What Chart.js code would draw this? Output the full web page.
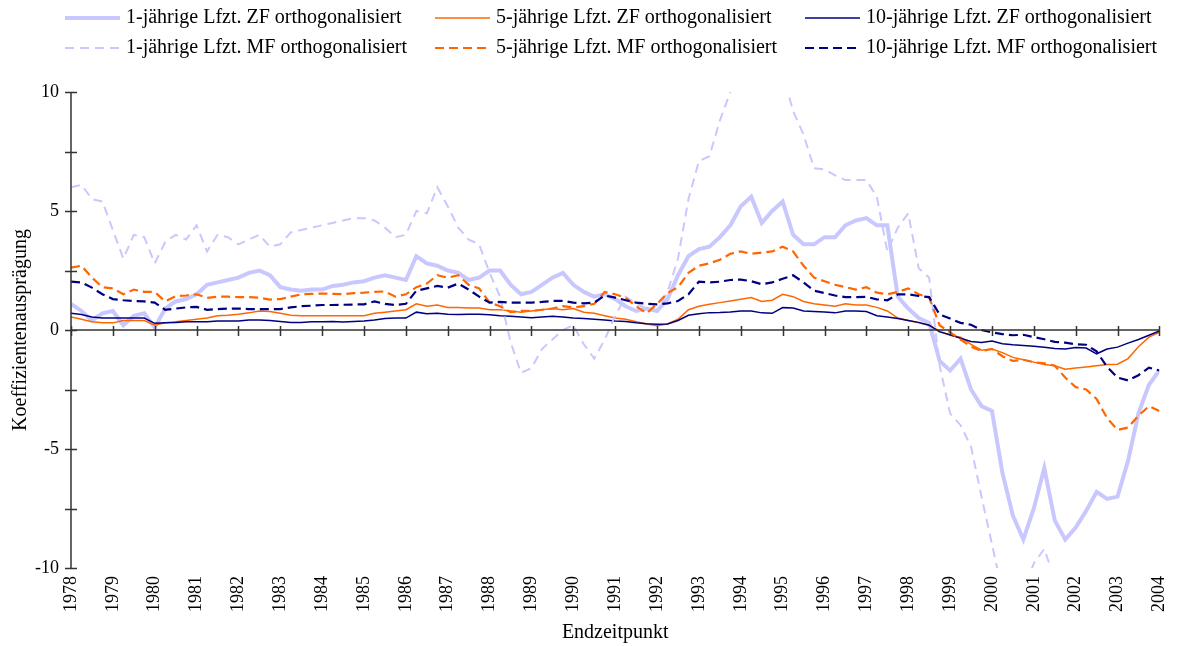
<!DOCTYPE html>
<html lang="de">
<head>
<meta charset="utf-8">
<title>Koeffizientenausprägung</title>
<script src="https://cdn.jsdelivr.net/npm/chart.js@4/dist/chart.umd.min.js"></script>
<style>
  html, body { margin: 0; padding: 0; background: #fff; }
  #rahmen { width: 1189px; height: 646px; position: relative; }
</style>
</head>
<body>
<div id="rahmen"><canvas id="graphique"></canvas></div>
<script>
// Endzeitpunkte (Quartale)
const quartale = [
  1978.00, 1978.25, 1978.50, 1978.75, 1979.00, 1979.25, 1979.50, 1979.75,
  1980.00, 1980.25, 1980.50, 1980.75, 1981.00, 1981.25, 1981.50, 1981.75,
  1982.00, 1982.25, 1982.50, 1982.75, 1983.00, 1983.25, 1983.50, 1983.75,
  1984.00, 1984.25, 1984.50, 1984.75, 1985.00, 1985.25, 1985.50, 1985.75,
  1986.00, 1986.25, 1986.50, 1986.75, 1987.00, 1987.25, 1987.50, 1987.75,
  1988.00, 1988.25, 1988.50, 1988.75, 1989.00, 1989.25, 1989.50, 1989.75,
  1990.00, 1990.25, 1990.50, 1990.75, 1991.00, 1991.25, 1991.50, 1991.75,
  1992.00, 1992.25, 1992.50, 1992.75, 1993.00, 1993.25, 1993.50, 1993.75,
  1994.00, 1994.25, 1994.50, 1994.75, 1995.00, 1995.25, 1995.50, 1995.75,
  1996.00, 1996.25, 1996.50, 1996.75, 1997.00, 1997.25, 1997.50, 1997.75,
  1998.00, 1998.25, 1998.50, 1998.75, 1999.00, 1999.25, 1999.50, 1999.75,
  2000.00, 2000.25, 2000.50, 2000.75, 2001.00, 2001.25, 2001.50, 2001.75,
  2002.00, 2002.25, 2002.50, 2002.75, 2003.00, 2003.25, 2003.50, 2003.75,
  2004.00
];

const jahre = [1978, 1979, 1980, 1981, 1982, 1983, 1984, 1985, 1986, 1987, 1988, 1989, 1990,
  1991, 1992, 1993, 1994, 1995, 1996, 1997, 1998, 1999, 2000, 2001, 2002, 2003, 2004];
const yTicks = [10, 5, 0, -5, -10];

// 1-jährige Lfzt. ZF orthogonalisiert
const zf1 = [
  1.1, 0.8, 0.4, 0.7,   0.8, 0.2, 0.6, 0.7,   0.1, 0.9, 1.2, 1.3,   1.5, 1.9, 2.0, 2.1,
  2.2, 2.4, 2.5, 2.3,   1.8, 1.7, 1.65, 1.7,  1.7, 1.85, 1.9, 2.0,  2.05, 2.2, 2.3, 2.2,
  2.1, 3.1, 2.8, 2.7,   2.5, 2.4, 2.1, 2.2,   2.5, 2.5, 1.9, 1.5,   1.6, 1.9, 2.2, 2.4,
  1.9, 1.6, 1.4, 1.5,   1.3, 1.0, 0.8, 0.9,   0.8, 1.3, 2.3, 3.1,   3.4, 3.5, 3.9, 4.4,
  5.2, 5.6, 4.5, 5.0,   5.4, 4.0, 3.6, 3.6,   3.9, 3.9, 4.4, 4.6,   4.7, 4.4, 4.4, 1.4,
  0.9, 0.5, 0.3, -1.3,  -1.7, -1.2, -2.5, -3.2,  -3.4, -6.0, -7.8, -8.8,  -7.5, -5.8, -8.0, -8.8,
  -8.3, -7.6, -6.8, -7.1,  -7.0, -5.5, -3.5, -2.3,
  -1.7
];

// 5-jährige Lfzt. ZF orthogonalisiert
const zf5 = [
  0.55, 0.45, 0.35, 0.3,  0.3, 0.4, 0.4, 0.4,   0.2, 0.3, 0.35, 0.4,  0.45, 0.5, 0.6, 0.62,
  0.66, 0.72, 0.8, 0.78,  0.7, 0.62, 0.6, 0.6,  0.6, 0.6, 0.6, 0.6,   0.6, 0.7, 0.75, 0.8,
  0.85, 1.1, 1.0, 1.05,   0.95, 0.95, 0.92, 0.92,  0.85, 0.85, 0.8, 0.75,  0.8, 0.85, 0.9, 0.85,
  0.9, 0.75, 0.7, 0.6,    0.5, 0.45, 0.35, 0.25,  0.18, 0.25, 0.45, 0.85,  1.0, 1.08, 1.15, 1.22,
  1.29, 1.36, 1.2, 1.25,  1.5, 1.4, 1.2, 1.1,   1.05, 1.0, 1.1, 1.05,  1.05, 0.95, 0.8, 0.5,
  0.4, 0.3, 0.2, -0.05,   -0.22, -0.3, -0.6, -0.85,  -0.8, -0.95, -1.15, -1.25,  -1.35, -1.45, -1.5, -1.65,
  -1.6, -1.55, -1.5, -1.45,  -1.44, -1.2, -0.7, -0.3,
  -0.1
];

// 10-jährige Lfzt. ZF orthogonalisiert
const zf10 = [
  0.7, 0.65, 0.55, 0.5,   0.5, 0.5, 0.5, 0.5,   0.28, 0.3, 0.32, 0.35,  0.35, 0.35, 0.38, 0.38,
  0.38, 0.42, 0.42, 0.4,  0.36, 0.32, 0.32, 0.35,  0.35, 0.36, 0.34, 0.36,  0.38, 0.42, 0.48, 0.5,
  0.5, 0.75, 0.68, 0.7,   0.66, 0.65, 0.66, 0.66,  0.64, 0.6, 0.58, 0.55,  0.52, 0.55, 0.58, 0.55,
  0.5, 0.48, 0.45, 0.42,  0.38, 0.36, 0.3, 0.26,  0.24, 0.25, 0.4, 0.62,  0.68, 0.73, 0.74, 0.76,
  0.8, 0.8, 0.72, 0.7,    0.94, 0.92, 0.8, 0.78,  0.76, 0.72, 0.8, 0.8,  0.78, 0.6, 0.55, 0.48,
  0.4, 0.32, 0.2, -0.08,  -0.2, -0.35, -0.48, -0.52,  -0.46, -0.58, -0.62, -0.65,  -0.68, -0.72, -0.78, -0.8,
  -0.74, -0.76, -1.0, -0.8,  -0.72, -0.55, -0.4, -0.22,
  -0.04
];

// 1-jährige Lfzt. MF orthogonalisiert (läuft zeitweise aus dem Bereich ±10)
const mf1 = [
  6.0, 6.1, 5.5, 5.4,   4.2, 3.0, 4.0, 3.9,   2.8, 3.7, 4.0, 3.8,   4.4, 3.3, 4.0, 3.9,
  3.6, 3.8, 4.0, 3.5,   3.6, 4.1, 4.2, 4.3,   4.4, 4.5, 4.6, 4.7,   4.7, 4.6, 4.3, 3.9,
  4.0, 5.0, 4.9, 6.0,   5.2, 4.3, 3.8, 3.6,   2.4, 1.4, -0.5, -1.8,  -1.6, -0.8, -0.4, 0.0,
  0.2, -0.6, -1.2, -0.4,  0.6, 1.4, 1.1, 0.9,  0.8, 1.6, 3.0, 5.5,   7.1, 7.3, 8.8, 10.0,
  10.5, 11.5, 12.0, 11.5,  10.8, 9.2, 8.2, 6.8,  6.75, 6.5, 6.3, 6.3,  6.3, 5.6, 3.3, 4.3,
  4.9, 2.6, 2.2, -1.5,  -3.5, -4.0, -4.9, -7.0,  -9.0, -11.0, -12.0, -11.0,  -9.8, -9.2, -10.5, null,
  null, null, null, null,  null, null, null, null,
  null
];

// 5-jährige Lfzt. MF orthogonalisiert
const mf5 = [
  2.62, 2.7, 2.2, 1.8,   1.75, 1.5, 1.7, 1.6,   1.6, 1.2, 1.42, 1.45,  1.5, 1.35, 1.4, 1.4,
  1.38, 1.38, 1.36, 1.28,  1.3, 1.4, 1.5, 1.52,  1.53, 1.52, 1.5, 1.55,  1.57, 1.6, 1.62, 1.4,
  1.5, 1.8, 1.95, 2.3,   2.2, 2.3, 1.9, 1.75,   1.15, 1.0, 0.75, 0.8,  0.8, 0.85, 0.9, 1.0,
  0.95, 1.0, 1.1, 1.6,   1.5, 1.35, 1.0, 0.7,   1.1, 1.55, 1.8, 2.4,   2.7, 2.8, 2.95, 3.2,
  3.3, 3.2, 3.25, 3.3,   3.5, 3.3, 2.7, 2.2,   2.05, 1.9, 1.8, 1.7,  1.8, 1.57, 1.5, 1.6,
  1.75, 1.5, 1.36, 0.2,  -0.1, -0.4, -0.7, -0.88,  -0.8, -1.1, -1.3, -1.25,  -1.35, -1.4, -1.5, -2.0,
  -2.4, -2.5, -2.9, -3.7,  -4.2, -4.1, -3.6, -3.2,
  -3.4
];

// 10-jährige Lfzt. MF orthogonalisiert
const mf10 = [
  2.03, 2.0, 1.78, 1.5,  1.3, 1.25, 1.22, 1.2,  1.15, 0.85, 0.9, 0.95,  0.97, 0.85, 0.88, 0.9,
  0.9, 0.88, 0.88, 0.88,  0.88, 0.95, 1.0, 1.02,  1.05, 1.05, 1.06, 1.07,  1.08, 1.2, 1.1, 1.05,
  1.1, 1.65, 1.75, 1.85,  1.78, 1.95, 1.7, 1.4,  1.15, 1.18, 1.15, 1.15,  1.15, 1.18, 1.22, 1.22,
  1.15, 1.12, 1.15, 1.45,  1.36, 1.25, 1.15, 1.1,  1.08, 1.12, 1.22, 1.5,  2.03, 2.0, 2.03, 2.1,
  2.12, 2.05, 1.92, 2.0,  2.15, 2.3, 2.0, 1.65,  1.55, 1.45, 1.38, 1.38,  1.39, 1.29, 1.25, 1.5,
  1.5, 1.43, 1.38, 0.65,  0.48, 0.3, 0.22, 0.0,  -0.1, -0.17, -0.22, -0.2,  -0.3, -0.39, -0.5, -0.53,
  -0.6, -0.62, -0.9, -1.55,  -2.0, -2.12, -1.9, -1.58,
  -1.7
];

const SCHRIFT = "'Liberation Serif', 'Times New Roman', serif";
const LAVENDEL = '#c8c8ff';
const ORANGE = '#ff6600';
const MARINE = '#000080';

function punkte(werte) {
  return quartale.map((q, i) => ({ x: q, y: werte[i] }));
}

const datasets = [
  { label: '1-jährige Lfzt. ZF orthogonalisiert', data: punkte(zf1), borderColor: LAVENDEL, borderWidth: 4, order: 6 },
  { label: '5-jährige Lfzt. ZF orthogonalisiert', data: punkte(zf5), borderColor: ORANGE, borderWidth: 1.5, order: 5 },
  { label: '10-jährige Lfzt. ZF orthogonalisiert', data: punkte(zf10), borderColor: MARINE, borderWidth: 1.5, order: 4 },
  { label: '1-jährige Lfzt. MF orthogonalisiert', data: punkte(mf1), borderColor: LAVENDEL, borderWidth: 2, borderDash: [9, 6], order: 3 },
  { label: '5-jährige Lfzt. MF orthogonalisiert', data: punkte(mf5), borderColor: ORANGE, borderWidth: 2.2, borderDash: [9, 5], order: 2 },
  { label: '10-jährige Lfzt. MF orthogonalisiert', data: punkte(mf10), borderColor: MARINE, borderWidth: 2.2, borderDash: [9, 5], order: 1 }
];
datasets.forEach(ds => {
  ds.pointRadius = 0;
  ds.fill = false;
  ds.tension = 0;
  ds.spanGaps = false;
});

// Achsen: y-Achse links, x-Achse auf der Nulllinie, Striche kreuzen die Achse
const achsenPlugin = {
  id: 'achsen',
  afterDatasetsDraw(chart) {
    const { ctx, chartArea, scales } = chart;
    const x = scales.x, y = scales.y;
    const y0 = y.getPixelForValue(0);
    ctx.save();
    ctx.strokeStyle = '#333';
    ctx.lineWidth = 1.5;
    ctx.beginPath();
    ctx.moveTo(chartArea.left, chartArea.top);
    ctx.lineTo(chartArea.left, chartArea.bottom);
    y.ticks.forEach(t => {
      const py = Math.round(y.getPixelForValue(t.value)) + 0.5;
      ctx.moveTo(chartArea.left - 6, py);
      ctx.lineTo(chartArea.left + 6, py);
    });
    ctx.moveTo(chartArea.left, y0);
    ctx.lineTo(chartArea.right, y0);
    x.ticks.forEach(t => {
      const px = Math.round(x.getPixelForValue(t.value)) + 0.5;
      ctx.moveTo(px, y0 - 4);
      ctx.lineTo(px, y0 + 6);
    });
    ctx.stroke();
    ctx.restore();
  }
};

// Legende in drei Spalten, zwei Zeilen
const legendePlugin = {
  id: 'legende',
  afterDraw(chart) {
    const ctx = chart.ctx;
    ctx.save();
    ctx.font = '20px ' + SCHRIFT;
    ctx.fillStyle = '#000';
    ctx.textBaseline = 'middle';
    chart.data.datasets.forEach((ds, i) => {
      const spalte = i % 3, zeile = Math.floor(i / 3);
      const x0 = 65 + spalte * 370;
      const yy = 18 + zeile * 30;
      ctx.strokeStyle = ds.borderColor;
      ctx.lineWidth = ds.borderWidth;
      ctx.setLineDash(ds.borderDash || []);
      ctx.beginPath();
      ctx.moveTo(x0, yy);
      ctx.lineTo(x0 + 55, yy);
      ctx.stroke();
      ctx.setLineDash([]);
      ctx.fillText(ds.label, x0 + 61, yy);
    });
    ctx.restore();
  }
};

Chart.defaults.font.family = SCHRIFT;
Chart.defaults.color = '#000';

const canvas = document.getElementById('graphique');
const myChart = new Chart(canvas.getContext('2d'), {
  type: 'line',
  data: { datasets: datasets },
  options: {
    responsive: true,
    maintainAspectRatio: false,
    animation: false,
    devicePixelRatio: 1,
    layout: { padding: { top: 92, right: 12, left: 0, bottom: 0 } },
    plugins: {
      legend: { display: false },
      tooltip: { enabled: false }
    },
    scales: {
      x: {
        type: 'linear',
        min: jahre[0],
        max: jahre[jahre.length - 1],
        grid: { display: false, drawTicks: false },
        border: { display: false },
        ticks: {
          stepSize: 1,
          autoSkip: false,
          minRotation: 90,
          maxRotation: 90,
          padding: 8,
          font: { size: 18 },
          callback: v => String(v)
        },
        title: { display: true, text: 'Endzeitpunkt', font: { size: 20 }, padding: { top: 0, bottom: 1 } },
        afterFit: scale => { scale.height = 78; }
      },
      y: {
        min: yTicks[yTicks.length - 1],
        max: yTicks[0],
        grid: { display: false, drawTicks: false },
        border: { display: false },
        ticks: {
          stepSize: 2.5,
          padding: 12,
          font: { size: 18 },
          callback: v => (yTicks.includes(v) ? String(v) : '')
        },
        title: { display: true, text: 'Koeffizientenausprägung', font: { size: 20 }, padding: { top: 9, bottom: 0 } },
        afterFit: scale => { scale.width = 71; }
      }
    }
  },
  plugins: [achsenPlugin, legendePlugin]
});
</script>
</body>
</html>
